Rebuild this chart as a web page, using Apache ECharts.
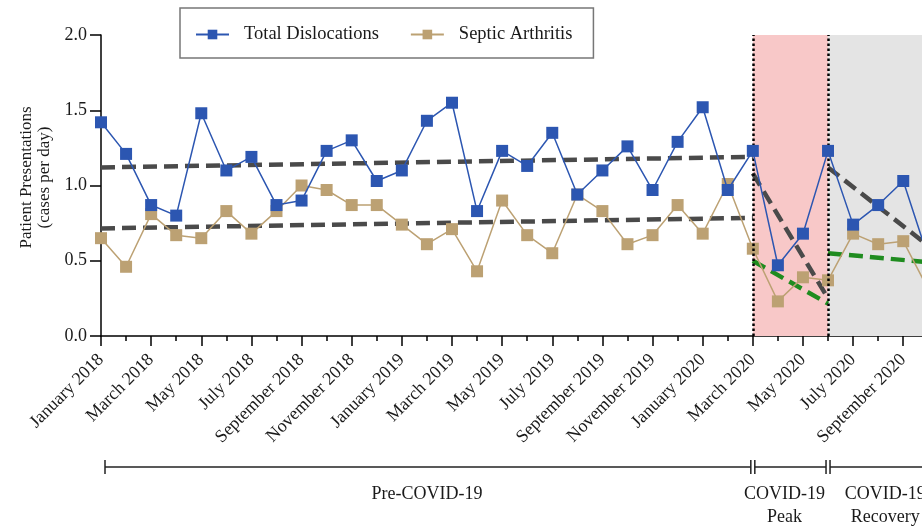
<!DOCTYPE html>
<html>
<head>
<meta charset="utf-8">
<script src="https://cdn.jsdelivr.net/npm/echarts@6/dist/echarts.min.js"></script>
<style>
html,body{margin:0;padding:0;overflow:hidden;background:#fff;width:922px;height:530px;}
#c{width:960px;height:530px;}
</style>
</head>
<body>
<div id="c"></div>
<script>
// ---- data ----
const categories = [
  'January 2018','February 2018','March 2018','April 2018','May 2018','June 2018',
  'July 2018','August 2018','September 2018','October 2018','November 2018','December 2018',
  'January 2019','February 2019','March 2019','April 2019','May 2019','June 2019',
  'July 2019','August 2019','September 2019','October 2019','November 2019','December 2019',
  'January 2020','February 2020','March 2020','April 2020','May 2020','June 2020',
  'July 2020','August 2020','September 2020','October 2020'
];

const totalDislocations = [1.42,1.21,0.87,0.80,1.48,1.10,1.19,0.87,0.90,1.23,1.30,1.03,1.10,1.43,1.55,0.83,1.23,1.13,1.35,0.94,1.10,1.26,0.97,1.29,1.52,0.97,1.23,0.47,0.68,1.23,0.74,0.87,1.03,0.52];
const septicArthritis   = [0.65,0.46,0.81,0.67,0.65,0.83,0.68,0.83,1.00,0.97,0.87,0.87,0.74,0.61,0.71,0.43,0.90,0.67,0.55,0.94,0.83,0.61,0.67,0.87,0.68,1.01,0.58,0.23,0.39,0.37,0.68,0.61,0.63,0.31];

// trend lines: [month index, value]
const preTrendTotal       = [[0,1.12],[26,1.19]];
const preTrendSeptic      = [[0,0.715],[26,0.785]];
const peakTrendTotal      = [[26,1.08],[29,0.25]];
const peakTrendSeptic     = [[26,0.50],[29,0.215]];
const recoveryTrendTotal  = [[29,1.12],[33,0.60]];
const recoveryTrendSeptic = [[29,0.55],[33,0.49]];

const peakStart = 26, peakEnd = 29, lastIndex = categories.length - 1;
const yTicks = [0, 0.5, 1.0, 1.5, 2.0];
const periodLabels = ['Pre-COVID-19', 'COVID-19\nPeak', 'COVID-19\nRecovery'];

// ---- chart ----
const W = 960;
const FONT = '"Liberation Serif", "Times New Roman", serif';
const BLUE = '#2c56b1', TAN = '#bca173', GREY = '#4a4a4a', GREEN = '#1f8c1f';
const chart = echarts.init(document.getElementById('c'), null, {renderer: 'canvas'});

function trend(name, data, color) {
  return {
    name: name, type: 'line', data: data, z: 3, symbol: 'none', silent: true,
    lineStyle: {color: color, width: 4.5, type: [14, 7]}, animation: false
  };
}

const option = {
  animation: false,
  textStyle: {fontFamily: FONT, color: '#1a1a1a'},
  grid: {left: 101, top: 35, bottom: 194, right: W - 101 - 25.07 * lastIndex},
  legend: {
    data: ['Total Dislocations', 'Septic Arthritis'],
    left: 180, top: 8,
    padding: [17, 21, 14, 15],
    itemWidth: 33, itemHeight: 12, itemGap: 31,
    borderColor: '#777', borderWidth: 1.5,
    textStyle: {fontFamily: FONT, fontSize: 18.5, color: '#1a1a1a', padding: [0, 0, 0, 10]}
  },
  xAxis: [{
    type: 'category', data: categories, boundaryGap: false,
    axisLine: {lineStyle: {color: '#000', width: 1.5}},
    axisTick: {interval: 0, length: 5, lineStyle: {color: '#000', width: 1.5}},
    axisLabel: {interval: 1, rotate: 45, margin: 21, fontFamily: FONT, fontSize: 18, color: '#1a1a1a'},
    splitLine: {show: false}
  }, {
    type: 'category', data: categories, boundaryGap: false, position: 'bottom',
    axisLine: {show: false},
    axisTick: {interval: 1, length: 10, lineStyle: {color: '#000', width: 1.5}},
    axisLabel: {show: false}, splitLine: {show: false}
  }],
  yAxis: {
    type: 'value', min: yTicks[0], max: yTicks[yTicks.length - 1], interval: 0.5,
    name: 'Patient Presentations\n(cases per day)', nameLocation: 'middle', nameRotate: 90, nameGap: 38,
    nameTextStyle: {fontFamily: FONT, fontSize: 17, color: '#1a1a1a', lineHeight: 18, padding: [0, 0, 0, 16]},
    axisLine: {show: true, lineStyle: {color: '#000', width: 1.5}},
    axisTick: {show: true, length: 11, lineStyle: {color: '#000', width: 1.5}},
    axisLabel: {margin: 14, fontFamily: FONT, fontSize: 18, color: '#1a1a1a', formatter: v => v.toFixed(1)},
    splitLine: {show: false}
  },
  series: [
    {
      name: 'bg', type: 'line', data: [], z: 1, silent: true,
      markArea: {
        silent: true,
        data: [
          [{xAxis: categories[peakStart], itemStyle: {color: '#f8c8c8'}}, {xAxis: categories[peakEnd]}],
          [{xAxis: categories[peakEnd], itemStyle: {color: '#e4e4e4'}}, {xAxis: categories[lastIndex]}]
        ]
      },
      markLine: {
        silent: true, symbol: ['none', 'none'], label: {show: false},
        lineStyle: {color: '#000', width: 2.5, type: [2.5, 2.5]},
        data: [{xAxis: categories[peakStart]}, {xAxis: categories[peakEnd]}]
      }
    },
    trend('t1', preTrendTotal, GREY),
    trend('t2', preTrendSeptic, GREY),
    trend('t3', peakTrendTotal, GREY),
    trend('t4', peakTrendSeptic, GREEN),
    trend('t5', recoveryTrendTotal, GREY),
    trend('t6', recoveryTrendSeptic, GREEN),
    {
      name: 'Septic Arthritis', type: 'line', data: septicArthritis, z: 4,
      symbol: 'rect', symbolSize: 12, showAllSymbol: true,
      itemStyle: {color: TAN}, lineStyle: {color: TAN, width: 1.5}
    },
    {
      name: 'Total Dislocations', type: 'line', data: totalDislocations, z: 5,
      symbol: 'rect', symbolSize: 12, showAllSymbol: true,
      itemStyle: {color: BLUE}, lineStyle: {color: BLUE, width: 1.5}
    }
  ]
};
chart.setOption(option);

// ---- period bracket below the axis ----
const px = i => chart.convertToPixel({gridIndex: 0}, [i, 0])[0];
const y0 = chart.convertToPixel({gridIndex: 0}, [0, 0])[1];
const by = y0 + 131;
const LS = {stroke: '#222', lineWidth: 1.5};
function hl(x1, x2) { return {type: 'line', shape: {x1: x1, y1: by, x2: x2, y2: by}, style: LS, silent: true}; }
function vl(x) { return {type: 'line', shape: {x1: x, y1: by - 7, x2: x, y2: by + 7}, style: LS, silent: true}; }
function txt(x, s) {
  return {type: 'text', x: x, y: by + 16, silent: true,
    style: {text: s, fill: '#1a1a1a', font: '18px ' + FONT, align: 'center', verticalAlign: 'top', lineHeight: 23}};
}
const xs = px(0) + 4, xp1 = px(peakStart), xp2 = px(peakEnd), xe = px(lastIndex);
chart.setOption({graphic: [
  hl(xs, xp1 - 2), vl(xs), vl(xp1 - 2), vl(xp1 + 2),
  hl(xp1 + 2, xp2 - 2), vl(xp2 - 2), vl(xp2 + 2),
  hl(xp2 + 2, W),
  txt((px(0) + xp1) / 2, periodLabels[0]),
  txt((xp1 + xp2) / 2 - 6, periodLabels[1]),
  txt((xp2 + xe) / 2 + 7, periodLabels[2])
]});
</script>
</body>
</html>
